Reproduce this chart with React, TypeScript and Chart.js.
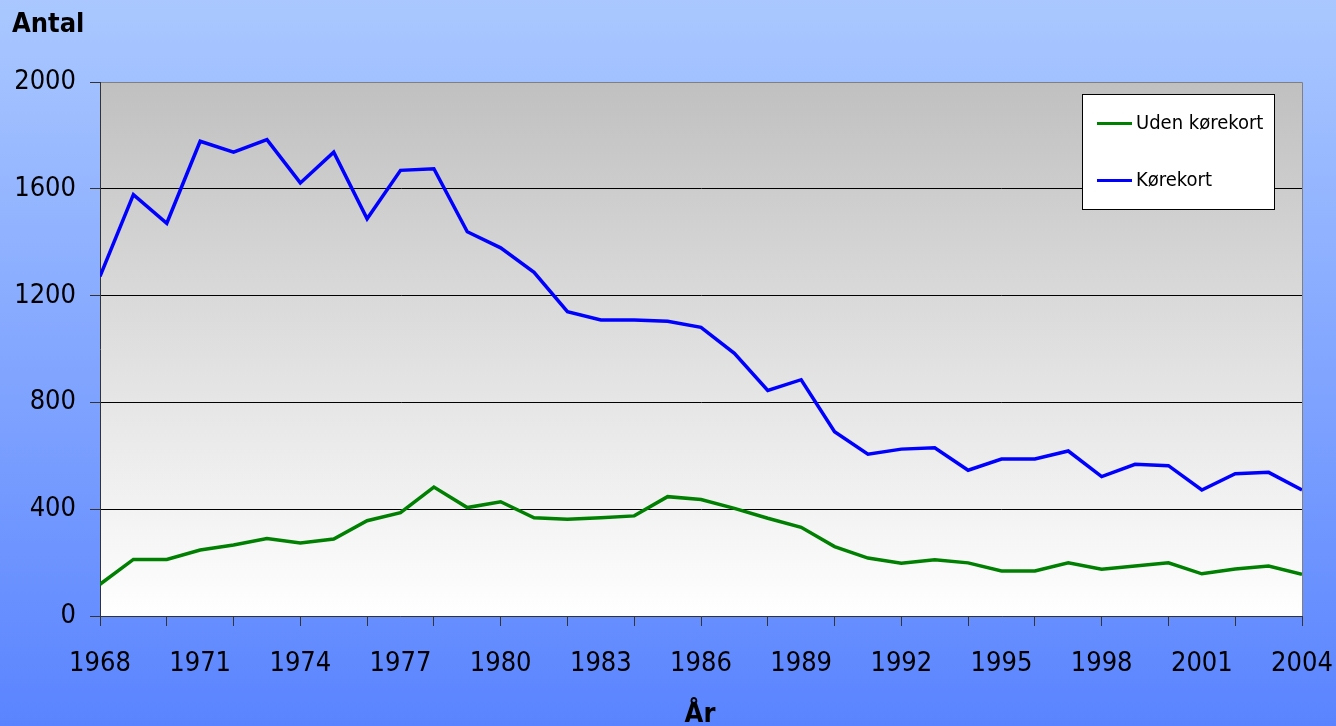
import React, { useEffect, useRef } from "react";
import { Chart, registerables } from "chart.js";

Chart.register(...registerables);

const years: number[] = [
  1968, 1969, 1970, 1971, 1972, 1973, 1974, 1975, 1976, 1977, 1978, 1979,
  1980, 1981, 1982, 1983, 1984, 1985, 1986, 1987, 1988, 1989, 1990, 1991,
  1992, 1993, 1994, 1995, 1996, 1997, 1998, 1999, 2000, 2001, 2002, 2003, 2004,
];

const udenKorekort: number[] = [
  119, 212, 212, 247, 266, 290, 273, 288, 357, 387, 483, 406,
  428, 368, 362, 368, 375, 447, 436, 403, 366, 332, 260, 217,
  198, 211, 199, 169, 169, 199, 175, 187, 199, 158, 176, 187, 156,
];

const korekort: number[] = [
  1272, 1578, 1471, 1778, 1737, 1784, 1622, 1737, 1488, 1669, 1675, 1439,
  1379, 1287, 1140, 1109, 1109, 1104, 1081, 984, 845, 885, 690, 606,
  625, 630, 546, 588, 588, 618, 522, 568, 563, 472, 533, 538, 472,
];

const seriesLabels: string[] = ["Uden kørekort", "Kørekort"];
const yTicks: number[] = [0, 400, 800, 1200, 1600, 2000];
const yAxisTitle = "Antal";
const xAxisTitle = "År";

const TICK_FONT = "'DejaVu Sans Condensed', 'DejaVu Sans', sans-serif";
const TEXT_FONT = "'DejaVu Sans Condensed', 'DejaVu Sans', sans-serif";

const decorPlugin = {
  id: "decor",
  beforeDraw(chart: any) {
    const { ctx, width, height, chartArea } = chart;
    ctx.save();
    const bg = ctx.createLinearGradient(0, 0, 0, height);
    bg.addColorStop(0, "#aac8ff");
    bg.addColorStop(1, "#5a84ff");
    ctx.fillStyle = bg;
    ctx.fillRect(0, 0, width, height);
    const pg = ctx.createLinearGradient(0, chartArea.top, 0, chartArea.bottom);
    pg.addColorStop(0, "#c0c0c0");
    pg.addColorStop(1, "#ffffff");
    ctx.fillStyle = pg;
    ctx.fillRect(chartArea.left, chartArea.top, chartArea.right - chartArea.left, chartArea.bottom - chartArea.top);
    ctx.strokeStyle = "#808080";
    ctx.lineWidth = 1;
    ctx.beginPath();
    ctx.moveTo(chartArea.left, chartArea.top + 0.5);
    ctx.lineTo(chartArea.right + 0.5, chartArea.top + 0.5);
    ctx.lineTo(chartArea.right + 0.5, chartArea.bottom);
    ctx.stroke();
    ctx.restore();
  },
  afterDraw(chart: any) {
    const { ctx } = chart;
    ctx.save();
    ctx.fillStyle = "#000";
    ctx.font = `bold 27px ${TEXT_FONT}`;
    ctx.textBaseline = "alphabetic";
    ctx.textAlign = "left";
    ctx.fillText(yAxisTitle, 12, 32);
    ctx.textAlign = "center";
    ctx.fillText(xAxisTitle, 700, 722);

    // legend box
    const bx = 1082.5, by = 94.5, bw = 192, bh = 115;
    ctx.fillStyle = "#ffffff";
    ctx.fillRect(bx, by, bw, bh);
    ctx.strokeStyle = "#000";
    ctx.lineWidth = 1;
    ctx.strokeRect(bx, by, bw, bh);
    const rows = [123.5, 180.5];
    ctx.font = `20px ${TEXT_FONT}`;
    ctx.textAlign = "left";
    ctx.textBaseline = "middle";
    chart.data.datasets.forEach((ds: any, i: number) => {
      const y = rows[i];
      ctx.strokeStyle = ds.borderColor;
      ctx.lineWidth = 3;
      ctx.beginPath();
      ctx.moveTo(1097, y);
      ctx.lineTo(1132, y);
      ctx.stroke();
      ctx.fillStyle = "#000";
      ctx.fillText(ds.label, 1136, y);
    });
    ctx.restore();
  },
};

export default function App() {
  const ref = useRef<HTMLCanvasElement>(null);
  useEffect(() => {
    document.body.style.margin = "0";
    const canvas = ref.current!;
    const chart = new Chart(canvas, {
      type: "line",
      data: {
        datasets: [
          {
            label: seriesLabels[0],
            data: years.map((x, i) => ({ x, y: udenKorekort[i] })),
            borderColor: "#008000",
            borderWidth: 3.5,
            pointRadius: 0,
            tension: 0,
            borderJoinStyle: "miter",
          },
          {
            label: seriesLabels[1],
            data: years.map((x, i) => ({ x, y: korekort[i] })),
            borderColor: "#0000ff",
            borderWidth: 3.5,
            pointRadius: 0,
            tension: 0,
            borderJoinStyle: "miter",
          },
        ],
      },
      options: {
        responsive: false,
        animation: false,
        events: [],
        layout: { padding: { top: 82, right: 34, left: 0, bottom: 0 } },
        plugins: { legend: { display: false }, tooltip: { enabled: false } },
        scales: {
          x: {
            type: "linear",
            min: years[0],
            max: years[years.length - 1],
            afterFit: (s: any) => {
              s.height = 110;
              s.paddingLeft = 0;
              s.paddingRight = 0;
            },
            border: { display: true, color: "#333", width: 1 },
            grid: {
              drawOnChartArea: false,
              drawTicks: true,
              tickLength: 10,
              tickColor: (c: any) => (c.tick && (c.tick.value - years[0]) % 2 === 0 ? "#333" : "rgba(0,0,0,0)"),
            },
            ticks: {
              stepSize: 1,
              autoSkip: false,
              maxRotation: 0,
              padding: 22,
              color: "#000",
              font: { family: TICK_FONT, size: 27 },
              callback: (v: any) => ((Number(v) - years[0]) % 3 === 0 ? String(v) : ""),
            },
          },
          y: {
            min: yTicks[0],
            max: yTicks[yTicks.length - 1],
            afterFit: (s: any) => {
              s.width = 100;
              s.paddingTop = 0;
              s.paddingBottom = 0;
            },
            afterBuildTicks: (s: any) => {
              s.ticks = yTicks.map((v) => ({ value: v }));
            },
            border: { display: true, color: "#333", width: 1 },
            grid: {
              drawTicks: true,
              tickLength: 10,
              tickColor: "#333",
              lineWidth: 1,
              color: (c: any) =>
                c.tick && c.tick.value === 0
                  ? "rgba(0,0,0,0)"
                  : c.tick && c.tick.value === 2000
                  ? "#808080"
                  : "#000",
            },
            ticks: {
              padding: 14,
              color: "#000",
              font: { family: TICK_FONT, size: 27 },
              callback: (v: any) => String(v),
            },
          },
        },
      },
      plugins: [decorPlugin],
    } as any);
    return () => chart.destroy();
  }, []);
  return <canvas ref={ref} width={1336} height={726} style={{ display: "block", width: 1336, height: 726 }} />;
}
